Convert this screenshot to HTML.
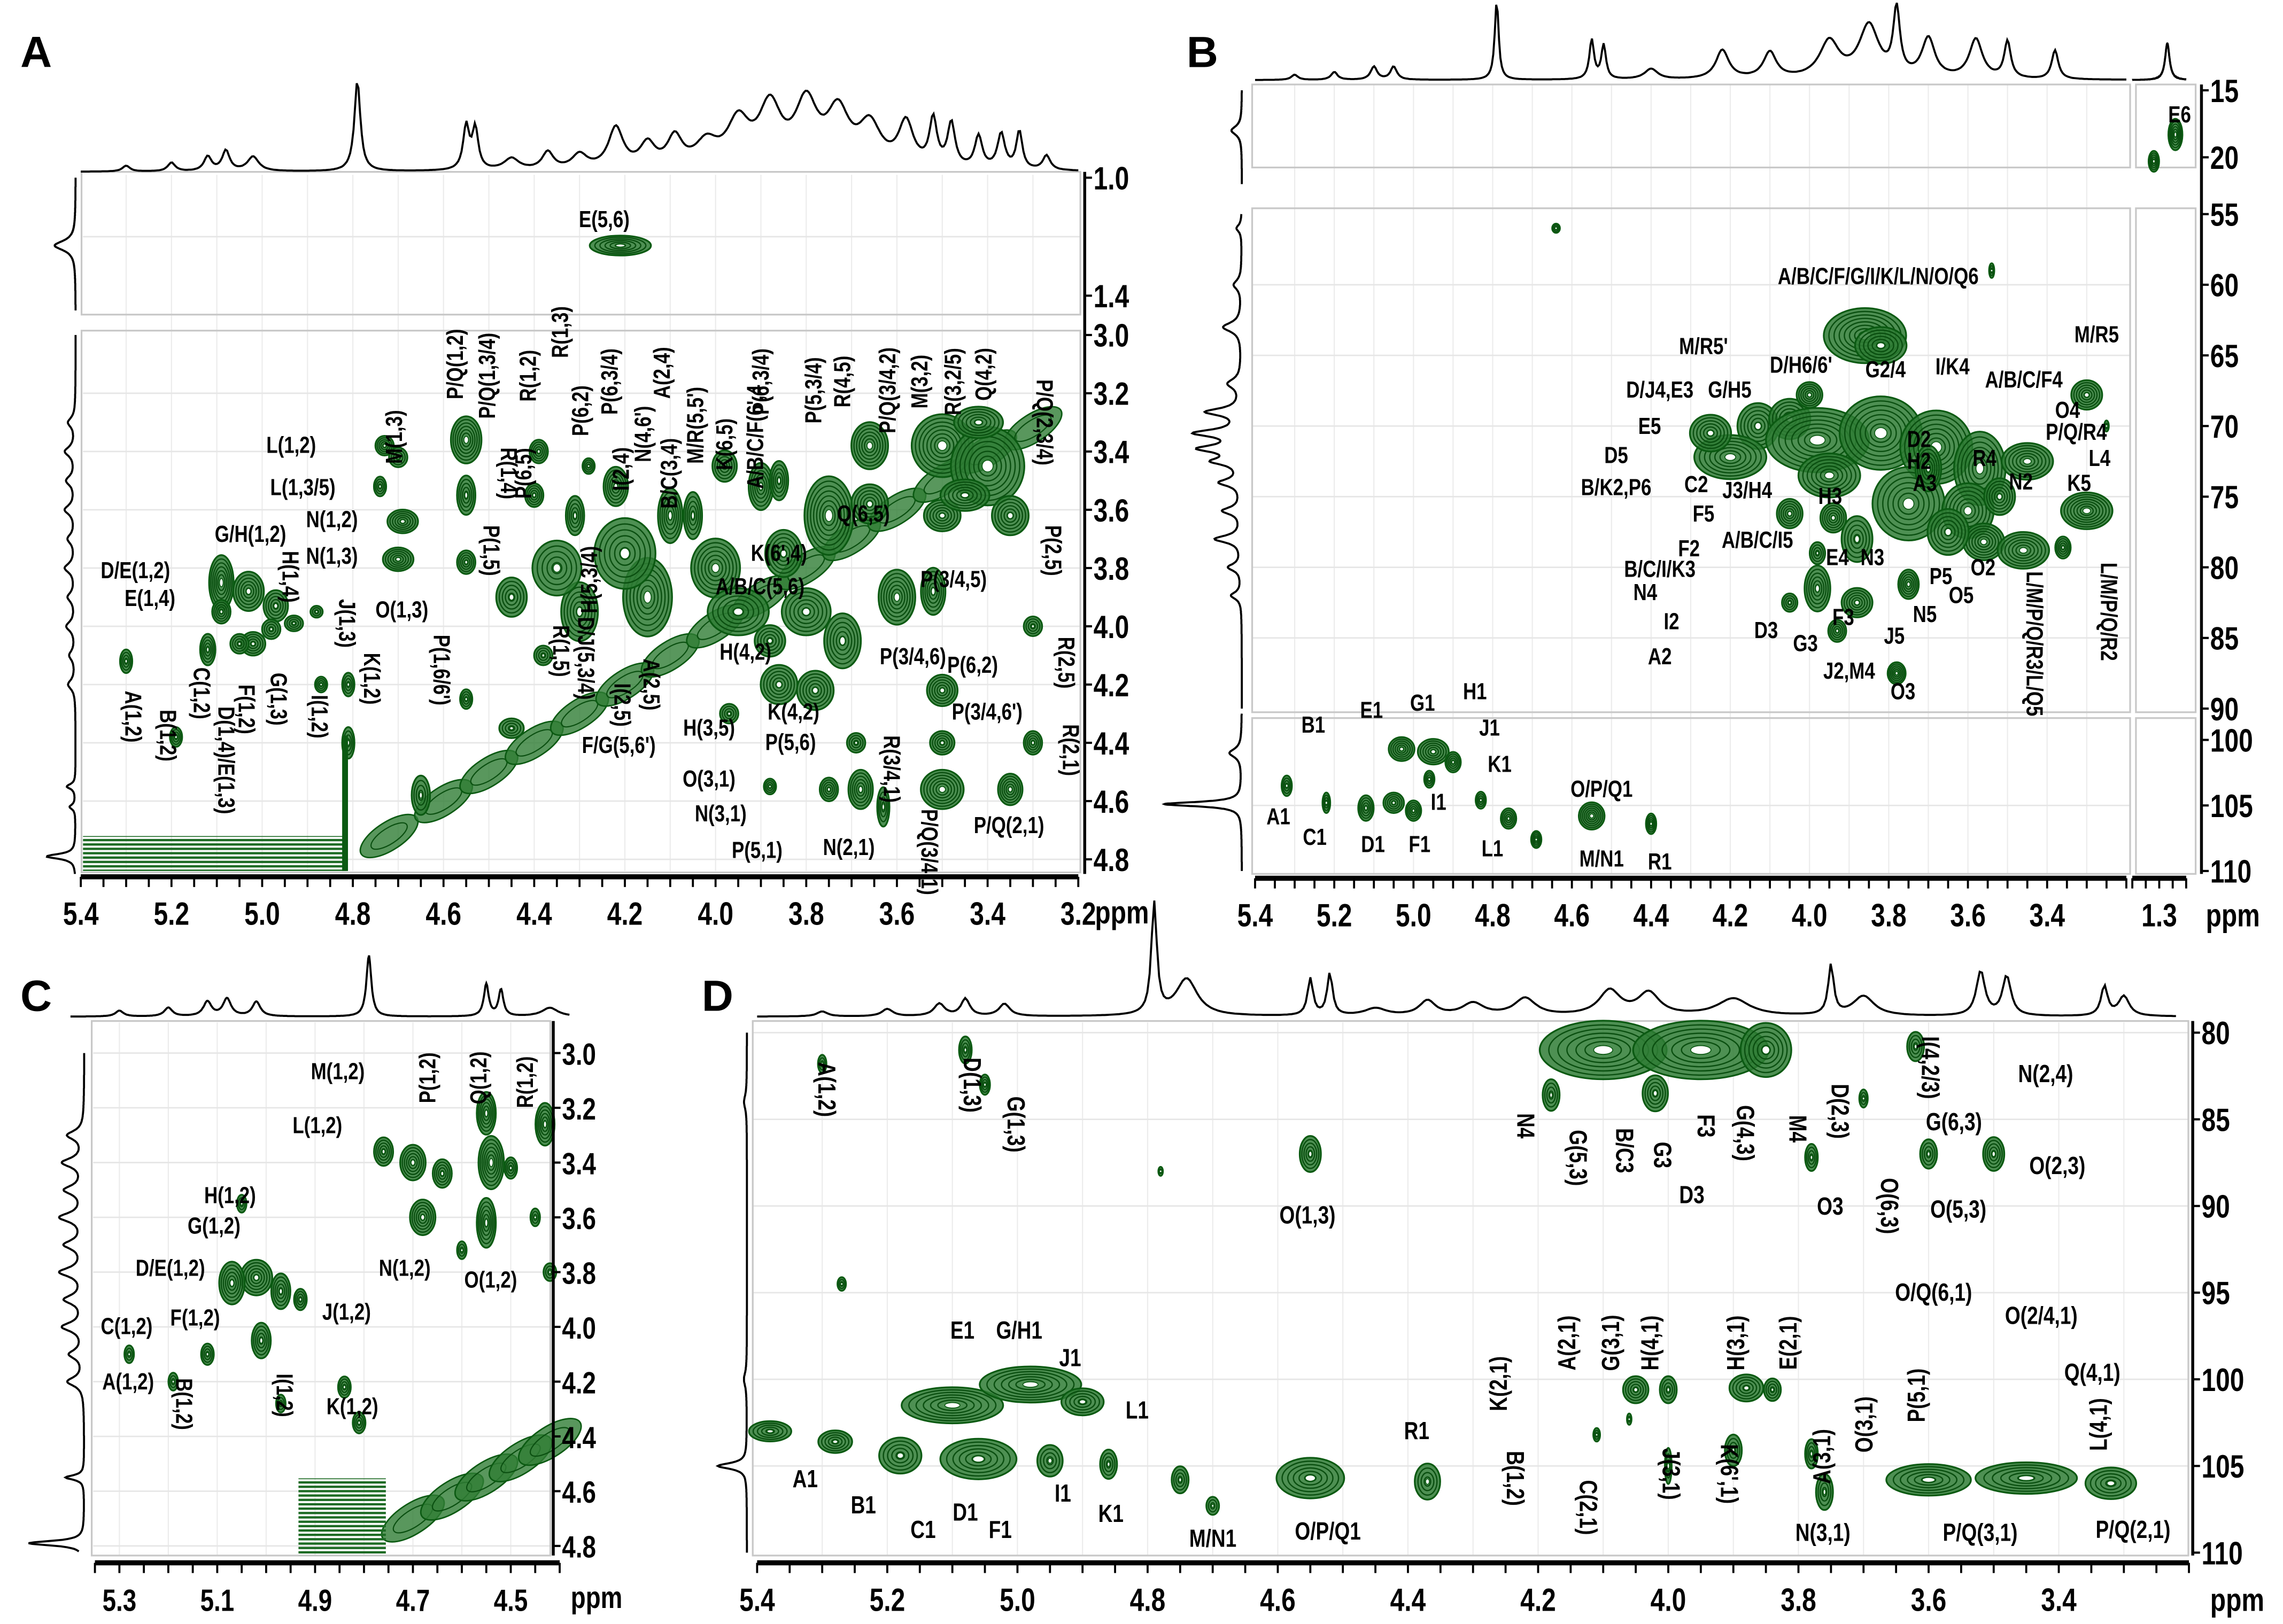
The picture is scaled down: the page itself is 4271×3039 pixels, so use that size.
<!DOCTYPE html>
<html><head><meta charset="utf-8">
<style>
html,body{margin:0;padding:0;background:#fff;}
svg{display:block;}
text{font-family:"Liberation Sans",sans-serif;font-weight:bold;fill:#000;}
</style></head>
<body>
<svg id="fig" xmlns="http://www.w3.org/2000/svg" width="4271" height="3039" viewBox="0 0 1568 1115" preserveAspectRatio="none">
<rect x="0" y="0" width="1568" height="1115" fill="#fff"/>
<defs>
<pattern id="streak" width="6" height="3" patternUnits="userSpaceOnUse"><rect width="6" height="1.6" fill="#1d6b24"/></pattern>
</defs>
<text x="14" y="46" font-size="30">A</text>
<text x="815" y="46" font-size="30">B</text>
<text x="14" y="694" font-size="30">C</text>
<text x="482" y="694" font-size="30">D</text>
</svg>
<script>
const NS='http://www.w3.org/2000/svg';
const svg=document.getElementById('fig');
const G1='#1d6b24', G2='#0b5a12';

/* ---------- DATA ---------- */
const ticksAx=[5.4,5.2,5.0,4.8,4.6,4.4,4.2,4.0,3.8,3.6,3.4,3.2];
const ticksAy=[1.0,1.4,3.0,3.2,3.4,3.6,3.8,4.0,4.2,4.4,4.6,4.8];
const peaksA=[[4.21,1.23,0.1,0.05,5],[5.3,4.12,0.02,0.06,3],[5.19,4.38,0.02,0.05,3],[5.12,4.08,0.025,0.08,4],[5.09,3.85,0.04,0.14,6],
[5.09,3.95,0.03,0.06,4],[5.03,3.88,0.05,0.1,5],[4.97,3.93,0.04,0.08,4],[5.02,4.06,0.04,0.06,4],[5.05,4.06,0.03,0.05,3],
[4.98,4.01,0.03,0.05,3],[4.93,3.99,0.03,0.04,3],[4.87,4.2,0.02,0.04,3],[4.81,4.2,0.02,0.06,3],[4.81,4.4,0.02,0.08,3],
[4.73,3.38,0.03,0.05,4],[4.74,3.52,0.02,0.05,3],[4.7,3.42,0.03,0.05,3],[4.69,3.64,0.05,0.06,5],[4.7,3.77,0.05,0.06,5],
[4.55,3.78,0.03,0.06,4],[4.55,3.36,0.05,0.12,6],[4.55,3.55,0.03,0.1,4],[4.55,4.25,0.02,0.05,3],[4.39,3.4,0.03,0.06,4],
[4.4,3.55,0.03,0.06,4],[4.31,3.62,0.03,0.1,4],[4.28,3.45,0.02,0.04,3],[4.22,3.52,0.04,0.1,5],[4.38,4.1,0.03,0.05,3],
[4.1,3.62,0.04,0.14,5],[4.05,3.62,0.03,0.12,4],[3.98,3.45,0.04,0.08,4],[3.9,3.52,0.04,0.12,5],[3.86,3.5,0.03,0.1,4],
[3.75,3.62,0.08,0.2,7],[3.66,3.38,0.06,0.12,6],[3.66,3.58,0.06,0.1,5],[3.5,3.38,0.1,0.16,7],[3.4,3.45,0.12,0.2,7],
[3.35,3.62,0.06,0.1,5],[3.5,3.62,0.06,0.08,5],[3.6,3.9,0.06,0.14,6],[3.52,3.88,0.04,0.12,5],[3.3,4.0,0.03,0.05,3],
[3.5,4.22,0.05,0.08,5],[3.78,4.22,0.06,0.1,5],[3.86,4.2,0.06,0.1,5],[3.97,4.3,0.03,0.05,3],[3.5,4.4,0.04,0.06,4],
[3.3,4.4,0.03,0.06,4],[3.69,4.4,0.03,0.05,3],[3.75,4.56,0.03,0.06,4],[3.68,4.56,0.04,0.1,5],[3.5,4.56,0.07,0.1,6],
[3.35,4.56,0.04,0.08,5],[3.88,4.55,0.02,0.04,3],[3.63,4.62,0.02,0.1,3],[4.15,3.9,0.08,0.2,6],[4.3,3.95,0.06,0.15,5],
[4.0,3.8,0.08,0.15,6],[3.85,3.75,0.06,0.12,5],[4.45,4.35,0.04,0.05,3],[4.65,4.58,0.03,0.1,3],[4.88,3.95,0.02,0.03,2],
[4.2,3.75,0.1,0.18,5],[3.95,3.95,0.1,0.12,5],[3.8,3.95,0.08,0.12,5],[3.72,4.05,0.06,0.14,5],[3.45,3.55,0.08,0.08,5],
[4.35,3.8,0.08,0.14,4],[4.45,3.9,0.05,0.1,4],[3.42,3.3,0.08,0.08,5],[3.88,4.05,0.05,0.08,4]];
const diagA=[[4.72,4.72],[4.6,4.6],[4.5,4.5],[4.4,4.4],[4.3,4.3],[4.2,4.2],[4.1,4.1],[4.0,4.0],[3.9,3.9],[3.8,3.8],[3.7,3.7],[3.6,3.6],[3.5,3.5],[3.4,3.4],[3.3,3.32]];
const specAtop=[[5.3,4,0.01],[5.2,6,0.01],[5.12,10,0.01],[5.08,14,0.01],[5.02,10,0.015],[4.79,62,0.008],[4.55,30,0.008],[4.53,28,0.008],
[4.45,8,0.02],[4.37,12,0.015],[4.3,10,0.02],[4.22,28,0.02],[4.15,16,0.02],[4.09,20,0.02],[4.02,16,0.03],[3.95,30,0.03],[3.88,40,0.03],
[3.8,42,0.03],[3.73,36,0.03],[3.66,28,0.03],[3.58,30,0.02],[3.52,32,0.01],[3.48,30,0.01],[3.42,22,0.01],[3.37,24,0.01],[3.33,26,0.008],[3.27,10,0.01]];
const specAleft=[[1.23,18,0.02],[3.3,10,0.02],[3.4,14,0.02],[3.5,12,0.02],[3.6,14,0.02],[3.7,10,0.02],[3.8,14,0.02],[3.9,10,0.02],[4.0,12,0.02],[4.1,8,0.02],[4.2,10,0.02],[4.55,12,0.01],[4.62,8,0.01],[4.79,40,0.01]];

const ticksBx=[5.4,5.2,5.0,4.8,4.6,4.4,4.2,4.0,3.8,3.6,3.4];
const ticksBy=[15,20,55,60,65,70,75,80,85,90,100,105,110];
const peaksB=[[1.24,18.3,0.04,1.8,5],[1.32,20.3,0.03,1.2,4],[4.64,56,0.015,0.5,2],[3.54,59,0.01,0.8,2],[3.25,70,0.005,0.6,1],
[3.86,63.6,0.16,3.0,7],[3.82,64.3,0.1,2.0,5],[3.3,67.8,0.06,1.6,5],[4.13,70,0.08,2.5,5],[4.2,72.2,0.14,2.4,6],
[4.05,69.5,0.08,2.2,5],[3.98,71,0.2,3.5,7],[3.82,70.5,0.16,4,7],[3.68,71.5,0.14,4,7],[3.57,73,0.1,4,6],
[3.45,72.5,0.1,2.0,6],[3.95,73.5,0.12,2.4,6],[3.75,75.5,0.14,4,6],[3.6,76,0.1,3,6],[3.3,76,0.1,2.0,7],
[4.05,76.2,0.05,1.6,5],[3.94,76.5,0.05,1.6,5],[3.56,78.2,0.08,2.0,6],[3.46,78.8,0.1,2.0,6],[3.36,78.6,0.03,1.2,4],
[3.98,79,0.03,1.2,3],[3.98,81.5,0.05,2.5,5],[3.88,82.5,0.06,1.6,5],[4.05,82.5,0.03,1.0,3],[3.93,84.5,0.035,1.2,4],
[3.75,81.2,0.04,1.6,5],[3.78,87.5,0.035,1.2,5],[3.7,73,0.05,2.5,5],[4.0,67.8,0.05,1.4,5],
[4.25,70.5,0.08,2.0,5],[3.65,77.5,0.08,2.5,5],[3.52,75,0.06,2.0,5],[3.88,78,0.06,2.5,4],
[5.32,103.5,0.02,1.2,3],[5.22,104.8,0.015,1.2,3],[5.12,105.2,0.03,1.5,4],[5.05,104.8,0.04,1.2,4],[5.0,105.4,0.03,1.2,4],
[5.03,100.7,0.05,1.4,5],[4.95,100.9,0.06,1.5,5],[4.9,101.7,0.03,1.2,4],[4.96,103,0.02,1.0,3],[4.83,104.6,0.02,1.0,3],
[4.76,106,0.03,1.2,4],[4.69,107.6,0.02,1.0,4],[4.55,105.8,0.05,1.6,6],[4.4,106.4,0.02,1.2,4]];
const specBtop=[[5.3,4,0.01],[5.2,6,0.01],[5.1,10,0.01],[5.05,10,0.01],[4.79,60,0.006],[4.55,30,0.007],[4.52,26,0.007],[4.4,8,0.02],
[4.22,22,0.02],[4.1,20,0.02],[3.95,28,0.03],[3.85,40,0.03],[3.78,50,0.01],[3.7,30,0.02],[3.58,30,0.02],[3.5,28,0.01],[3.38,22,0.01],[1.27,28,0.01]];
const specBleft=[[18,8,0.4],[56,4,0.3],[60,6,0.4],[63,14,0.4],[67,10,0.4],[69,26,0.3],[70.5,34,0.3],[71.6,30,0.3],[72.5,20,0.3],[74,16,0.3],[76,14,0.3],[78,20,0.3],[80,10,0.3],[82,8,0.3],[104.9,38,0.2],[101,6,0.4]];

const ticksCx=[5.3,5.1,4.9,4.7,4.5];
const ticksCy=[3.0,3.2,3.4,3.6,3.8,4.0,4.2,4.4,4.6,4.8];
const peaksC=[[4.7,3.4,0.04,0.1,5],[4.64,3.44,0.03,0.08,4],[4.76,3.36,0.03,0.08,4],[4.55,3.22,0.03,0.12,5],[4.54,3.4,0.04,0.15,6],
[4.43,3.26,0.03,0.12,5],[4.5,3.42,0.02,0.06,3],[4.68,3.6,0.04,0.1,5],[4.55,3.62,0.03,0.14,5],[5.02,3.82,0.05,0.1,5],
[5.07,3.84,0.04,0.12,5],[4.97,3.87,0.03,0.1,4],[4.93,3.9,0.02,0.06,3],[5.12,4.1,0.02,0.06,3],[5.01,4.05,0.03,0.1,4],
[5.28,4.1,0.015,0.05,2],[5.19,4.2,0.015,0.05,2],[4.97,4.28,0.015,0.05,2],[4.84,4.22,0.02,0.06,3],[4.81,4.35,0.02,0.06,3],
[5.05,3.55,0.015,0.05,2],[4.45,3.6,0.015,0.05,2],[4.6,3.72,0.015,0.05,2],[4.42,3.8,0.02,0.05,2]];
const diagC=[[4.7,4.7],[4.62,4.62],[4.55,4.55],[4.48,4.48],[4.42,4.42]];
const specCtop=[[5.3,4,0.01],[5.2,6,0.01],[5.12,10,0.01],[5.08,12,0.01],[5.02,10,0.01],[4.79,42,0.006],[4.55,22,0.006],[4.52,18,0.006],[4.42,6,0.02]];
const specCleft=[[3.3,14,0.02],[3.4,18,0.02],[3.5,16,0.02],[3.6,20,0.02],[3.7,16,0.02],[3.8,20,0.02],[3.9,16,0.02],[4.0,18,0.02],[4.1,12,0.02],[4.2,14,0.02],[4.55,16,0.01],[4.79,48,0.01]];

const ticksDx=[5.4,5.2,5.0,4.8,4.6,4.4,4.2,4.0,3.8,3.6,3.4];
const ticksDy=[80,85,90,95,100,105,110];
const peaksD=[[5.3,81.8,0.01,0.8,2],[5.08,81,0.015,1.2,3],[5.05,83,0.012,0.9,3],[4.55,87,0.025,1.6,4],[5.27,94.5,0.01,0.6,2],
[4.78,88,0.004,0.4,1],[4.1,81,0.15,2.6,6],[3.95,81,0.16,2.6,6],[3.85,81,0.06,2.4,5],[4.18,83.6,0.02,1.4,3],
[4.02,83.5,0.03,1.6,4],[3.78,87.2,0.015,1.2,3],[3.7,83.8,0.01,0.8,2],[3.6,87,0.02,1.3,3],[3.5,87,0.025,1.5,4],[3.62,80.8,0.02,1.3,3],
[5.38,103,0.05,0.9,4],[5.28,103.6,0.04,1.0,4],[5.1,101.5,0.12,1.6,6],[4.98,100.3,0.12,1.6,6],[4.9,101.3,0.05,1.2,4],
[5.18,104.4,0.05,1.6,4],[5.06,104.6,0.09,1.8,5],[4.95,104.7,0.03,1.4,3],[4.86,104.9,0.02,1.3,3],[4.75,105.8,0.02,1.2,3],
[4.7,107.3,0.015,0.8,2],[4.55,105.7,0.08,1.8,5],[4.37,105.9,0.03,1.6,3],[4.11,103.2,0.008,0.6,2],[4.05,100.6,0.03,1.2,4],
[4.0,100.6,0.02,1.2,3],[3.88,100.5,0.04,1.2,4],[3.84,100.6,0.02,1.0,3],[3.9,104.1,0.02,1.4,3],[3.78,104.3,0.015,1.3,3],
[3.76,106.5,0.02,1.6,3],[3.6,105.8,0.1,1.4,5],[3.45,105.7,0.12,1.4,5],[3.32,106,0.06,1.4,4],[4.06,102.3,0.005,0.5,1],[4.0,105,0.008,1.6,2]];
const specDtop=[[5.3,4,0.01],[5.2,6,0.01],[5.12,10,0.01],[5.08,14,0.008],[5.02,10,0.01],[4.79,90,0.005],[4.74,30,0.02],[4.52,34,0.005],[4.55,30,0.005],
[4.45,6,0.02],[4.37,12,0.015],[4.3,10,0.02],[4.22,14,0.02],[4.09,20,0.02],[4.03,18,0.02],[3.9,14,0.03],[3.75,40,0.005],[3.7,16,0.02],[3.52,36,0.008],[3.48,32,0.008],[3.33,24,0.006],[3.3,16,0.01]];
const specDleft=[[105,20,0.2],[84,2,0.5],[100,2,0.5]];

/* ---------- AXIS FUNCTIONS ---------- */
const xA=p=>55.5+(5.4-p)*311.4;
const yA=p=>p<2?122+(p-1)*202.5:230+(p-3)*200;
const xB=p=>p>2?862+(5.4-p)*272:1483+(1.3-p)*185;
const yB=c=>c<30?62+(c-15)*9.2:(c<95?147+(c-55)*9.7:508+(c-100)*9);
const xC=p=>82+(5.3-p)*336;
const yC=p=>723+(p-3)*188;
const xD=p=>520+(5.4-p)*447;
const yD=c=>709+(c-80)*11.9;

function mk(tag,parent){const e=document.createElementNS(NS,tag);(parent||svg).appendChild(e);return e;}
function at(e,o){for(const k in o)e.setAttribute(k,o[k]);}
function ctext(g,str,x,y,fs,rot,anchor,sx){
  const t=mk('text',g);
  at(t,{x:0,y:0,'font-size':fs,'text-anchor':anchor||'middle',transform:`translate(${x} ${y}) rotate(${rot||0}) scale(${sx||0.82} 1)`});
  t.textContent=str;return t;
}

function frame(name,x0,y0,x1,y1){
  const r=mk('rect');
  
  
  at(r,{x:x0,y:y0,width:x1-x0,height:y1-y0,fill:'none',stroke:'#c8c8c8','stroke-width':1.2});
}
function grid(name,xf,pvals,y0,y1){
  const g=mk('g');
  
  
  pvals.forEach(p=>{const l=mk('line',g);at(l,{x1:xf(p),x2:xf(p),y1:y0,y2:y1,stroke:'#ececec','stroke-width':0.8});});
  return g;
}
function hgrid(g,yf,vals,x0,x1){vals.forEach(v=>{const l=mk('line',g);at(l,{x1:x0,x2:x1,y1:yf(v),y2:yf(v),stroke:'#e6e6e6','stroke-width':1});});}

function peaks(name,arr,xf,yf,sc){
  const g=mk('g');
  
  
  arr.forEach(pk=>{
    const cx=xf(pk[0]),cy=yf(pk[1]);
    const rx=sc*Math.max(1.2,Math.abs(xf(pk[0]-pk[2]/2)-xf(pk[0]+pk[2]/2))/2);
    const ry=sc*Math.max(1.2,Math.abs(yf(pk[1]+pk[3]/2)-yf(pk[1]-pk[3]/2))/2);
    const n=pk[4]+1;
    const pg=mk('g',g);
    
    
    const base=mk('ellipse',pg);at(base,{cx,cy,rx,ry,fill:'#2f7d35','fill-opacity':0.85,stroke:G2,'stroke-width':1.2});
    for(let k=1;k<n;k++){const f=1-k/n;const e=mk('ellipse',pg);at(e,{cx,cy,rx:rx*f,ry:ry*f,fill:'none',stroke:'#0a4f10','stroke-width':0.9});}
    const c=mk('ellipse',pg);at(c,{cx,cy,rx:Math.max(0.8,rx*0.15),ry:Math.max(0.8,ry*0.15),fill:'#fff',stroke:G2,'stroke-width':0.6});
  });
}
function diag(name,arr,xf,yf,w){
  const g=mk('g');
  
  
  arr.forEach(d=>{const e=mk('ellipse',g);const cx=xf(d[0]),cy=yf(d[1]);
    at(e,{cx,cy,rx:w*1.9,ry:w*0.8,fill:'#2f7d35','fill-opacity':0.8,stroke:G2,'stroke-width':1,transform:`rotate(-33 ${cx} ${cy})`});
    const e2=mk('ellipse',g);at(e2,{cx,cy,rx:w*1.2,ry:w*0.45,fill:'none',stroke:'#0a4f10','stroke-width':0.8,transform:`rotate(-33 ${cx} ${cy})`});});
}
function specTop(name,arr,xf,p0,p1,base,scale){
  let d='';let first=true;
  for(let i=0;i<=600;i++){const p=p0+(p1-p0)*i/600;let h=0;
    arr.forEach(s=>{const dx=(p-s[0])/s[2];h+=s[1]/(1+dx*dx);});
    const x=xf(p),y=Math.max(2,base-h*scale);d+=(first?'M':'L')+x.toFixed(1)+' '+y.toFixed(1);first=false;}
  const pa=mk('path');
  
  
  at(pa,{d,fill:'none',stroke:'#000','stroke-width':1.4});
}
function specLeft(name,arr,yf,p0,p1,base,scale){
  let d='';let first=true;
  for(let i=0;i<=600;i++){const p=p0+(p1-p0)*i/600;let h=0;
    arr.forEach(s=>{const dx=(p-s[0])/s[2];h+=s[1]/(1+dx*dx);});
    const y=yf(p),x=base-h*scale;d+=(first?'M':'L')+x.toFixed(1)+' '+y.toFixed(1);first=false;}
  const pa=mk('path');
  
  
  at(pa,{d,fill:'none',stroke:'#000','stroke-width':1.4});
}
function xaxis(name,xf,ticks,minorStep,pmin,pmax,y,fs,fmt){
  const g=mk('g');
  
  
  const l=mk('line',g);at(l,{x1:xf(pmax),x2:xf(pmin),y1:y,y2:y,stroke:'#000','stroke-width':3.5});
  for(let p=pmin;p<=pmax+1e-6;p+=minorStep){const t=mk('line',g);at(t,{x1:xf(p),x2:xf(p),y1:y,y2:y+7,stroke:'#000','stroke-width':1.4});}
  ticks.forEach(v=>{ctext(g,fmt(v),xf(v),y+33,fs,0,'middle',0.8);});
  return g;
}
function yaxis(name,yf,ticks,x,y0,y1,fs,fmt){
  const g=mk('g');
  
  
  const l=mk('line',g);at(l,{x1:x,x2:x,y1:y0,y2:y1,stroke:'#000','stroke-width':2});
  ticks.forEach(v=>{const t=mk('line',g);at(t,{x1:x,x2:x+5,y1:yf(v),y2:yf(v),stroke:'#000','stroke-width':1.5});
    ctext(g,fmt(v),x+6,yf(v)+8,fs,0,'start',0.8);});
  return g;
}
function labels(name,arr,fs){
  const g=mk('g');
  
  
  arr.forEach(a=>{
    const t=ctext(g,a[0],a[1],a[2],fs,a[3]||0,'middle',0.8);
    
    
  });
}
function unit(name,x,y,fs){
  const t=ctext(svg,'ppm',x,y,fs,0,'start',0.8);
  
  
}
const f1=v=>v.toFixed(1), f0=v=>String(v);

/* ---------- PANEL A ---------- */
const gA=grid('grid-a',xA,[5.3,5.2,5.1,5.0,4.9,4.8,4.7,4.6,4.5,4.4,4.3,4.2,4.1,4.0,3.9,3.8,3.7,3.6,3.5,3.4,3.3],120,598);
hgrid(gA,yA,[1.2,3.2,3.4,3.6,3.8,4.0,4.2,4.4,4.6,4.8],57,742);
frame('plot-frame-a-top',56,118,742,216);
frame('plot-frame-a-main',56,227,742,599);
diag('diagonal-a',diagA,xA,yA,12);
peaks('cross-peaks-a',peaksA,xA,yA,1.35);
const wA=mk('rect');


at(wA,{x:57,y:574,width:181,height:24,fill:'url(#streak)'});
const wA2=mk('rect');


at(wA2,{x:235,y:505,width:4,height:93,fill:G2});
specTop('spectrum-top-a',specAtop,xA,5.4,3.2,118,1.0);
specLeft('spectrum-left-a-top',specAleft,yA,1.0,1.45,52,0.8);
specLeft('spectrum-left-a',specAleft,yA,3.0,4.85,52,0.5);
xaxis('x-axis-a',xA,ticksAx,0.05,3.2,5.4,602,22,f1);
yaxis('y-axis-a',yA,ticksAy,745,118,600,22,f1);
unit('x-axis-unit-a',752,634,22);
labels('labels-a',[["E(5,6)",415,156],["L(1,2)",200,311],["L(1,3/5)",208,340],["M(1,3)",276,300,-90],["N(1,2)",228,362],["N(1,3)",228,387],
["O(1,3)",276,424],["G/H(1,2)",172,372],["H(1,4)",194,396,90],["D/E(1,2)",93,397],["E(1,4)",103,416],["J(1,3)",233,428,90],
["A(1,2)",86,492,90],["B(1,2)",110,505,90],["C(1,2)",133,476,90],["F(1,2)",164,487,90],["G(1,3)",186,480,90],["I(1,2)",214,492,90],
["K(1,2)",250,466,90],["D(1,4)/E(1,3)",150,522,90],["P(1,6/6')",298,460,90],["P/Q(1,2)",318,250,-90],["P/Q(1,3/4)",340,258,-90],
["R(1,2)",368,258,-90],["R(1,3)",390,228,-90],["R(1,4)",344,325,90],["P(1,5)",332,378,90],["P(6,5)",365,325,-90],["P(6,2)",404,282,-90],
["P(6,3/4)",424,262,-90],["I(2,4)",432,322,-90],["N(4,6')",447,298,-90],["B/C(3,4)",465,325,-90],["A(2,4)",460,256,-90],
["M/R(5,5')",483,292,-90],["K(6,5)",503,305,-90],["A/B/C/F(6',4",524,300,-90],["P(6,3/4)",528,262,-90],["P(5,3/4)",564,268,-90],
["R(4,5)",584,262,-90],["P/Q(3/4,2)",615,268,-90],["M(3,2)",637,262,-90],["R(3,2/5)",660,262,-90],["Q(4,2)",681,257,-90],
["P/Q(2,3/4)",712,290,90],["Q(6,5)",593,358],["P(2,5)",718,378,90],["K(6',4)",535,385],["A/B/C(5,6)",522,408],["H(5,3/4)",410,398,-90],
["H(4,2)",512,453],["P(3/4,5)",655,403],["P(3/4,6)",627,456],["P(6,2)",668,462],["K(4,2)",545,494],["P(3/4,6')",678,494],
["R(2,5)",727,455,90],["H(3,5)",487,505],["P(5,6)",543,515],["R(3/4,1)",607,528,90],["R(2,1)",730,515,90],["O(3,1)",487,540],
["N(3,1)",495,564],["P(5,1)",520,589],["N(2,1)",583,587],["P/Q(3/4,1)",633,585,90],["P/Q(2,1)",693,572],["F/G(5,6')",425,517],
["I(2,5)",422,484,90],["A(2,5)",442,470,90],["R(1,5)",380,447,90],["D/J(5,3/4)",397,452,90]],16);

/* ---------- PANEL B ---------- */
const gB=grid('grid-b',xB,[5.3,5.2,5.1,5.0,4.9,4.8,4.7,4.6,4.5,4.4,4.3,4.2,4.1,4.0,3.9,3.8,3.7,3.6,3.5,3.4,3.3],58,600);
hgrid(gB,yB,[60,65,70,75,80,85,105],860,1463);
frame('plot-frame-b-top',860,58,1463,115);
frame('plot-frame-b-mid',860,143,1463,489);
frame('plot-frame-b-bottom',860,493,1463,600);
frame('plot-frame-b-top-right',1467,58,1508,115);
frame('plot-frame-b-mid-right',1467,143,1508,489);
frame('plot-frame-b-bottom-right',1467,493,1508,600);
peaks('cross-peaks-b',peaksB,xB,yB,1.3);
specTop('spectrum-top-b',specBtop.filter(s=>s[0]>2),xB,5.4,3.2,55,0.9);
specTop('spectrum-top-b-right',specBtop.filter(s=>s[0]<2),xB,1.4,1.2,55,0.9);
specLeft('spectrum-left-b-top',specBleft,yB,15,22,853,0.9);
specLeft('spectrum-left-b',specBleft,yB,55,90,853,0.9);
specLeft('spectrum-left-b-bottom',specBleft,yB,98,110,853,1.4);
xaxis('x-axis-b',xB,ticksBx,0.05,3.2,5.4,603,22,f1);
xaxis('x-axis-b-right',xB,[1.3],0.05,1.2,1.4,603,22,f1);
yaxis('y-axis-b',yB,ticksBy,1512,58,600,22,f0);
unit('x-axis-unit-b',1515,636,22);
labels('labels-b',[["E6",1497,84],["A/B/C/F/G/I/K/L/N/O/Q6",1290,195],["M/R5'",1170,243],["D/H6/6'",1237,256],["G2/4",1295,259],["I/K4",1341,257],
["A/B/C/F4",1390,266],["M/R5",1440,235],["D/J4,E3",1140,273],["G/H5",1188,273],["O4",1420,287],["P/Q/R4",1426,302],["L4",1442,320],
["E5",1133,298],["D5",1110,318],["D2",1318,307],["H2",1318,322],["R4",1363,320],["C2",1165,338],["J3/H4",1200,342],["B/K2,P6",1110,340],
["A3",1322,337],["N2",1388,336],["K5",1428,337],["H3",1257,346],["F5",1170,358],["F2",1160,382],["A/B/C/I5",1207,376],["E4",1262,388],
["N3",1286,388],["P5",1333,401],["O2",1362,395],["O5",1347,414],["B/C/I/K3",1140,396],["N4",1130,412],["N5",1322,427],["F3",1266,429],
["I2",1148,432],["D3",1213,438],["G3",1240,447],["J5",1301,442],["A2",1140,456],["J2,M4",1270,466],["O3",1307,480],
["L/M/P/Q/R3/L/Q5",1392,442,90],["L/M/P/Q/R2",1443,420,90],
["B1",902,503],["E1",942,493],["G1",977,488],["H1",1013,480],["J1",1023,505],["K1",1030,530],["I1",988,556],["A1",878,566],["C1",903,580],
["D1",943,585],["F1",975,585],["L1",1025,588],["O/P/Q1",1100,547],["M/N1",1100,595],["R1",1140,597]],16);

/* ---------- PANEL C ---------- */
const gC=grid('grid-c',xC,[5.3,5.2,5.1,5.0,4.9,4.8,4.7,4.6,4.5],702,1068);
hgrid(gC,yC,ticksCy,64,378);
frame('plot-frame-c',63,701,378,1068);
diag('diagonal-c',diagC,xC,yC,13);
peaks('cross-peaks-c',peaksC,xC,yC,1.3);
const wC=mk('rect');


at(wC,{x:205,y:1015,width:60,height:53,fill:'url(#streak)'});
specTop('spectrum-top-c',specCtop,xC,5.4,4.38,698,1.0);
specLeft('spectrum-left-c',specCleft,yC,3.0,4.82,58,0.8);
xaxis('x-axis-c',xC,ticksCx,0.05,4.4,5.35,1073,21,f1);
yaxis('y-axis-c',yC,ticksCy,380,701,1068,21,f1);
unit('x-axis-unit-c',392,1104,21);
labels('labels-c',[["M(1,2)",232,741],["P(1,2)",299,740,-90],["Q(1,2)",334,740,-90],["R(1,2)",366,743,-90],["L(1,2)",218,778],["H(1,2)",158,826],
["G(1,2)",147,847],["D/E(1,2)",117,876],["J(1,2)",238,906],["N(1,2)",278,876],["O(1,2)",337,884],["C(1,2)",87,916],["F(1,2)",134,910],
["A(1,2)",88,954],["B(1,2)",121,964,90],["I(1,2)",190,958,90],["K(1,2)",242,971]],16);

/* ---------- PANEL D ---------- */
const gD=grid('grid-d',xD,[5.3,5.2,5.1,5.0,4.9,4.8,4.7,4.6,4.5,4.4,4.3,4.2,4.1,4.0,3.9,3.8,3.7,3.6,3.5,3.4,3.3],702,1068);
hgrid(gD,yD,[80,85,90,95,100,105],517,1503);
frame('plot-frame-d',517,701,1503,1068);
peaks('cross-peaks-d',peaksD,xD,yD,1.3);
specTop('spectrum-top-d',specDtop,xD,5.4,3.22,698,0.85);
specLeft('spectrum-left-d',specDleft,yD,80,110,513,1.0);
xaxis('x-axis-d',xD,ticksDx,0.05,3.2,5.4,1073,22,f1);
yaxis('y-axis-d',yD,ticksDy,1506,701,1068,22,f0);
unit('x-axis-unit-d',1518,1106,22);
labels('labels-d',[["A(1,2)",562,748,90],["D(1,3)",662,745,90],["G(1,3)",692,772,90],["O(1,3)",898,840],["N4",1042,773,90],["G(5,3)",1078,795,90],
["B/C3",1110,790,90],["G3",1136,793,90],["F3",1166,773,90],["D3",1162,826],["G(4,3)",1193,778,90],["M4",1229,775,90],["D(2,3)",1258,763,90],
["O3",1257,834],["O(6,3)",1292,828,90],["I(4,2/3)",1320,733,90],["N(2,4)",1405,743],["G(6,3)",1342,776],["O(2,3)",1413,806],["O(5,3)",1345,836],
["E1",661,919],["G/H1",700,919],["J1",735,938],["L1",781,974],["R1",973,988],["K(2,1)",1035,950,-90],["A(2,1)",1082,922,-90],["G(3,1)",1112,922,-90],
["H(4,1)",1139,922,-90],["H(3,1)",1198,922,-90],["E(2,1)",1234,922,-90],["O/Q(6,1)",1328,893],["O(2/4,1)",1402,909],["Q(4,1)",1437,948],
["L(4,1)",1447,978,-90],["P(5,1)",1322,958,-90],["O(3,1)",1286,978,-90],["A(3,1)",1257,1000,-90],["A1",553,1021],["B1",593,1039],["C1",634,1056],
["D1",663,1044],["F1",687,1056],["I1",730,1031],["K1",763,1045],["M/N1",833,1062],["O/P/Q1",912,1057],["B(1,2)",1035,1015,90],
["C(2,1)",1085,1035,90],["J(3,1)",1142,1012,90],["K(6',1)",1182,1012,90],["N(3,1)",1252,1058],["P/Q(3,1)",1360,1058],["P/Q(2,1)",1465,1056]],17);
</script>
</body></html>
